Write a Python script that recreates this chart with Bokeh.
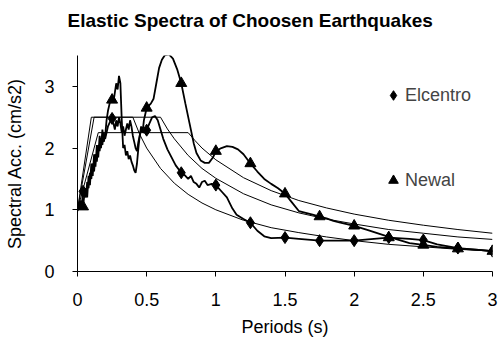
from bokeh.plotting import figure
from bokeh.models import FixedTicker, Legend, LegendItem, Range1d, Title
from bokeh.embed import file_html
from bokeh.resources import INLINE

# ---- data ----
x_ticks = [0, 0.5, 1, 1.5, 2, 2.5, 3]
x_tick_labels = ["0", "0.5", "1", "1.5", "2", "2.5", "3"]
y_ticks = [0, 1, 2, 3]

# Newal record (dense line)
newal_T = [0.00, 0.02, 0.04, 0.05, 0.06, 0.07, 0.08, 0.09, 0.10, 0.11, 0.12, 0.13, 0.14, 0.15,
           0.16, 0.17, 0.18, 0.19, 0.20, 0.21, 0.22, 0.23, 0.24, 0.25, 0.26, 0.27, 0.28, 0.29,
           0.30, 0.31, 0.32, 0.33, 0.34, 0.35, 0.36, 0.37, 0.38, 0.39, 0.40, 0.41, 0.42, 0.43,
           0.44, 0.45, 0.46, 0.47, 0.48, 0.50, 0.53, 0.55, 0.57, 0.59, 0.61, 0.63, 0.66, 0.69,
           0.72, 0.75, 0.78, 0.81, 0.84, 0.86, 0.89, 0.92, 0.95, 0.98, 1.00, 1.04, 1.08, 1.12,
           1.16, 1.20, 1.25, 1.30, 1.35, 1.40, 1.45, 1.50, 1.55, 1.60, 1.65, 1.70, 1.75, 1.80,
           1.85, 1.90, 2.00, 2.10, 2.25, 2.40, 2.50, 2.60, 2.75, 2.90, 3.00]
newal_SA = [0.98, 1.10, 1.05, 1.25, 1.35, 1.20, 1.55, 1.40, 1.75, 1.55, 1.90, 1.70, 2.05, 1.85,
            2.20, 2.00, 2.30, 2.10, 2.20, 2.45, 2.60, 2.70, 2.80, 2.78, 2.75, 2.90, 3.05, 2.95,
            3.17, 3.05, 2.45, 2.00, 2.05, 1.88, 1.95, 1.82, 1.88, 1.78, 1.72, 1.64, 1.60, 1.75,
            2.00, 2.20, 2.35, 2.25, 2.45, 2.65, 2.72, 2.80, 3.05, 3.30, 3.43, 3.50, 3.52, 3.45,
            3.28, 3.05, 2.72, 2.40, 2.08, 1.92, 1.80, 1.76, 1.76, 1.85, 1.95, 2.00, 2.03, 2.02,
            1.98, 1.90, 1.75, 1.62, 1.50, 1.42, 1.35, 1.26, 1.12, 0.98, 0.95, 0.92, 0.89, 0.86,
            0.82, 0.79, 0.74, 0.67, 0.56, 0.46, 0.43, 0.40, 0.37, 0.35, 0.33]

# Elcentro record (dense line)
elc_T = [0.00, 0.02, 0.03, 0.04, 0.05, 0.06, 0.07, 0.08, 0.09, 0.10, 0.11, 0.12, 0.13, 0.14,
         0.15, 0.16, 0.17, 0.18, 0.19, 0.20, 0.22, 0.24, 0.25, 0.26, 0.27, 0.28, 0.29, 0.30,
         0.31, 0.32, 0.33, 0.34, 0.35, 0.36, 0.37, 0.38, 0.39, 0.40, 0.41, 0.42, 0.43, 0.44,
         0.45, 0.46, 0.48, 0.50, 0.52, 0.54, 0.56, 0.58, 0.60, 0.62, 0.65, 0.68, 0.71, 0.75,
         0.78, 0.80, 0.82, 0.84, 0.86, 0.88, 0.90, 0.92, 0.94, 0.97, 1.00, 1.04, 1.08, 1.12,
         1.15, 1.20, 1.25, 1.30, 1.35, 1.40, 1.50, 1.60, 1.75, 1.85, 2.00, 2.10, 2.25, 2.40,
         2.50, 2.60, 2.75, 2.90, 3.00]
elc_SA = [1.00, 1.15, 1.05, 1.30, 1.28, 1.20, 1.45, 1.35, 1.60, 1.50, 1.75, 1.62, 1.90, 1.78,
          2.05, 1.95, 2.15, 2.05, 2.25, 2.15, 2.35, 2.45, 2.48, 2.40, 2.30, 2.45, 2.35, 2.50,
          2.40, 2.25, 2.35, 2.20, 2.30, 2.40, 2.30, 2.45, 2.35, 2.20, 2.10, 2.00, 1.95, 2.10,
          2.20, 2.30, 2.25, 2.29, 2.40, 2.50, 2.52, 2.45, 2.30, 2.15, 1.98, 1.85, 1.72, 1.60,
          1.55, 1.50, 1.55, 1.45, 1.42, 1.36, 1.45, 1.47, 1.40, 1.42, 1.40, 1.30, 1.20, 1.02,
          0.92, 0.85, 0.79, 0.66, 0.57, 0.54, 0.55, 0.53, 0.50, 0.50, 0.50, 0.52, 0.55, 0.53,
          0.51, 0.44, 0.38, 0.35, 0.33]

# marker points
mark_T = [0.04, 0.25, 0.50, 0.75, 1.00, 1.25, 1.50, 1.75, 2.00, 2.25, 2.50, 2.75, 3.00]
elc_mark_SA = [1.30, 2.48, 2.29, 1.60, 1.40, 0.79, 0.55, 0.50, 0.50, 0.55, 0.51, 0.38, 0.33]
newal_mark_SA = [1.05, 2.78, 2.65, 3.05, 1.95, 1.75, 1.26, 0.89, 0.74, 0.55, 0.43, 0.37, 0.33]

# design spectra (thin curves)
dsA_T = [0, 0.10, 0.40, 0.45, 0.50, 0.60, 0.70, 0.80, 0.90, 1.00, 1.20, 1.40, 1.60, 1.80,
         2.00, 2.25, 2.50, 2.75, 3.00]
dsA_SA = [1.0, 2.50, 2.50, 2.22, 2.00, 1.67, 1.43, 1.25, 1.11, 1.00, 0.83, 0.71, 0.63, 0.56,
          0.50, 0.44, 0.40, 0.36, 0.33]
dsB_T = [0, 0.12, 0.60, 0.65, 0.70, 0.80, 0.90, 1.00, 1.20, 1.40, 1.60, 1.80, 2.00, 2.25,
         2.50, 2.75, 3.00]
dsB_SA = [1.0, 2.50, 2.50, 2.31, 2.15, 1.88, 1.67, 1.51, 1.26, 1.08, 0.95, 0.85, 0.77, 0.68,
          0.62, 0.56, 0.52]
dsC_T = [0, 0.15, 0.80, 0.85, 0.90, 1.00, 1.20, 1.40, 1.60, 1.80, 2.00, 2.25, 2.50, 2.75, 3.00]
dsC_SA = [1.0, 2.25, 2.25, 2.12, 2.00, 1.81, 1.52, 1.31, 1.15, 1.03, 0.93, 0.83, 0.75, 0.68, 0.62]

FONT = "Liberation Sans"

p = figure(width=499, height=341, output_backend="svg", toolbar_location=None,
           x_range=Range1d(0, 3), y_range=Range1d(0, 3.5),
           min_border_left=77, min_border_right=7, min_border_top=55, min_border_bottom=70)
p.outline_line_color = None
p.xgrid.visible = False
p.ygrid.visible = False
p.background_fill_color = "white"
p.border_fill_color = "white"

# spacer between plot area and title, then the title itself (stacked outward)
p.add_layout(Title(text=" ", text_font=FONT, text_font_size="19px", standoff=0), "above")
p.add_layout(Title(text="Elastic Spectra of Choosen Earthquakes", text_font=FONT,
                   text_font_size="19px", text_font_style="bold", text_color="black",
                   align="left", offset=-10, vertical_align="top", standoff=0), "above")

for ds_T, ds_SA in [(dsA_T, dsA_SA), (dsB_T, dsB_SA), (dsC_T, dsC_SA)]:
    p.line(ds_T, ds_SA, line_color="black", line_width=1)

p.line(elc_T, elc_SA, line_color="black", line_width=1.8)
p.line(newal_T, newal_SA, line_color="black", line_width=1.8)
r_elc = p.scatter(mark_T, elc_mark_SA, marker="diamond", size=12, color="black")
r_new = p.scatter(mark_T, newal_mark_SA, marker="triangle", size=11, color="black")

# axes
p.xaxis.ticker = FixedTicker(ticks=x_ticks)
p.xaxis.major_label_overrides = {t: l for t, l in zip(x_ticks, x_tick_labels)}
p.yaxis.ticker = FixedTicker(ticks=y_ticks)
for ax in (p.xaxis, p.yaxis):
    ax.axis_line_color = "black"
    ax.major_tick_line_color = "black"
    ax.minor_tick_line_color = None
    ax.major_tick_in = 0
    ax.major_tick_out = 5
    ax.major_label_text_font = FONT
    ax.major_label_text_font_size = "18px"
    ax.major_label_text_color = "black"
    ax.axis_label_text_font = FONT
    ax.axis_label_text_font_size = "18px"
    ax.axis_label_text_font_style = "normal"
    ax.axis_label_text_color = "black"
p.xaxis.axis_label = "Periods (s)"
p.yaxis.axis_label = "Spectral Acc. (cm/s2)"
p.xaxis.major_label_standoff = 16
p.xaxis.axis_label_standoff = 8
p.yaxis.major_label_standoff = 18
p.yaxis.axis_label_standoff = 16

# legend
legend = Legend(items=[LegendItem(label="Elcentro", renderers=[r_elc]),
                       LegendItem(label="Newal", renderers=[r_new])],
                location=(304, 79), orientation="vertical",
                padding=0, margin=0, spacing=61,
                glyph_width=24, glyph_height=24, label_height=24, label_standoff=0,
                label_text_font=FONT, label_text_font_size="18px",
                border_line_color=None, background_fill_alpha=0)
p.add_layout(legend)

open("out.html", "w").write(file_html(p, INLINE))
